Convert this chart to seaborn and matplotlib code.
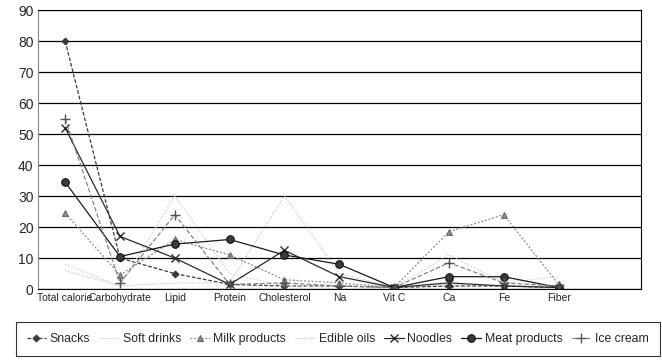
import matplotlib
matplotlib.use("Agg")
import matplotlib.pyplot as plt
import seaborn as sns
import pandas as pd
import numpy as np

categories = ["Total calorie", "Carbohydrate", "Lipid", "Protein", "Cholesterol",
              "Na", "Vit C", "Ca", "Fe", "Fiber"]
snacks = [80, 10, 5, 1.5, 1, 1, 0.5, 1, 1, 0.5]
soft_drinks = [8, 1, 30, 5, 1, 1, 0.5, 11, 2, 4]
milk_products = [24.5, 4.5, 16, 11, 3, 2, 0.5, 18.5, 24, 1.5]
edible_oils = [6, 1, 2, 2, 30, 5, 0.5, 1.5, 1, 1]
noodles = [52, 17, 10, 1.5, 12.5, 4, 0.5, 2, 1, 0.5]
meat_products = [34.5, 10.5, 14.5, 16, 11, 8, 0.5, 4, 4, 0.5]
ice_cream = [55, 2, 24, 1.5, 2, 1, 0.5, 8.5, 2, 1]
yticks = [0, 10, 20, 30, 40, 50, 60, 70, 80, 90]

series = {
    "Snacks": snacks,
    "Soft drinks": soft_drinks,
    "Milk products": milk_products,
    "Edible oils": edible_oils,
    "Noodles": noodles,
    "Meat products": meat_products,
    "Ice cream": ice_cream,
}
styles = {
    "Snacks": dict(color="#3a3a3a", ls=(0, (3, 1.5)), lw=0.9, marker="D", ms=3.5, mfc="#3a3a3a", mec="#3a3a3a"),
    "Soft drinks": dict(color="#cfcfcf", ls=(0, (1.5, 1.5)), lw=0.8, marker=None),
    "Milk products": dict(color="#8a8a8a", ls=(0, (1.5, 1.5)), lw=0.9, marker="^", ms=4.5, mfc="#8a8a8a", mec="#6a6a6a"),
    "Edible oils": dict(color="#bdbdbd", ls=(0, (1, 1.5)), lw=0.8, marker=None),
    "Noodles": dict(color="#2a2a2a", ls="-", lw=0.9, marker="x", ms=5.5, mew=1.0, mec="#2a2a2a"),
    "Meat products": dict(color="#1a1a1a", ls="-", lw=0.9, marker="o", ms=5.5, mfc="#3a3a3a", mec="#111111"),
    "Ice cream": dict(color="#777777", ls=(0, (4, 2)), lw=0.8, marker="+", ms=6.5, mew=1.0, mec="#555555"),
}

sns.set_theme(style="white")
plt.rcParams['font.family'] = ['Liberation Sans', 'DejaVu Sans']

fig = plt.figure(figsize=(6.62, 3.6), dpi=100)
ax = fig.add_axes([0.057, 0.197, 0.911, 0.775])

xs = np.arange(len(categories))
for name, vals in series.items():
    df = pd.DataFrame({"x": xs, "y": vals})
    st = dict(styles[name])
    color = st.pop("color")
    ls = st.pop("ls")
    lw = st.pop("lw")
    sns.lineplot(data=df, x="x", y="y", ax=ax, color=color, linestyle=ls,
                 linewidth=lw, label=name, **st)

ax.set_xlim(-0.5, 10.5)
ax.set_ylim(0, 90)
ax.set_yticks(yticks)
ax.set_yticklabels([str(v) for v in yticks], fontsize=10)
ax.set_xticks(xs)
ax.set_xticklabels(categories, fontsize=7.5)
ax.set_xticks(np.arange(0.5, 10.6, 1), minor=True)
ax.tick_params(axis="x", which="major", length=0, pad=3)
ax.tick_params(axis="x", which="minor", length=3, direction="in", color="black")
ax.tick_params(axis="y", length=0, pad=3)
ax.set_xlabel("")
ax.set_ylabel("")
ax.yaxis.grid(True, color="black", lw=0.9)
ax.set_axisbelow(True)
for sp in ax.spines.values():
    sp.set_visible(True)
    sp.set_color("black")
    sp.set_linewidth(0.8)
ax.spines["left"].set_color("#888888")

handles, labels = ax.get_legend_handles_labels()
ax.get_legend().remove()
leg = fig.legend(handles, labels, loc="lower center", bbox_to_anchor=(0.51, 0.0),
                 ncol=7, frameon=True, fontsize=8.8, handlelength=1.6,
                 columnspacing=0.75, handletextpad=0.3, borderpad=0.9,
                 borderaxespad=0.3)
leg.get_frame().set_edgecolor("black")
leg.get_frame().set_linewidth(0.8)
leg.get_frame().set_boxstyle("square", pad=0)

fig.savefig("out.png", dpi=100)
